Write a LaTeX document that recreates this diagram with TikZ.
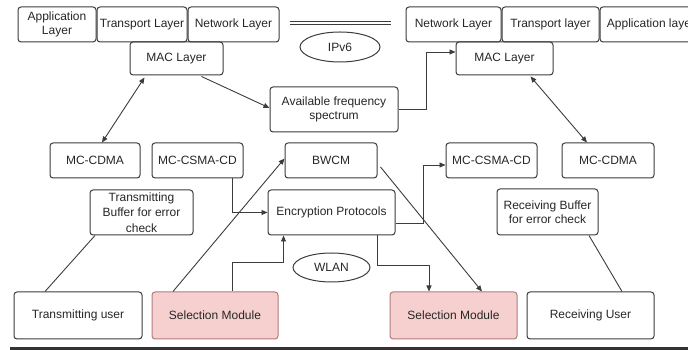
\documentclass[tikz,border=0pt]{standalone}
\usepackage{fontspec}
\setmainfont{Liberation Sans}
\usepackage{tikz}
\usetikzlibrary{arrows.meta,positioning,shapes.geometric}
\definecolor{edge}{HTML}{3C3C3C}
\definecolor{selfill}{HTML}{F6D0CE}
\definecolor{seldraw}{HTML}{B07C7C}

\begin{document}
\begin{tikzpicture}[
  x=1pt, y=1pt,
  node distance=0pt,
  box/.style={draw=edge, line width=1pt, rounded corners=3pt, align=center, inner sep=1pt, text=black!85, font=\fontsize{12}{13.5}\selectfont},
  sel/.style={box, fill=selfill, draw=seldraw},
  oval/.style={draw=edge, line width=1pt, ellipse, inner sep=0pt, text=black!85, font=\fontsize{12}{13.5}\selectfont},
  arrow/.style={-{Triangle[length=6pt,width=5pt]}, line width=0.9pt, draw=edge},
  twoway/.style={{Triangle[length=6pt,width=5pt]}-{Triangle[length=6pt,width=5pt]}, line width=0.9pt, draw=edge},
  link/.style={line width=0.9pt, draw=edge}
]
\useasboundingbox (0,0) rectangle (688,350);

% sender stack
\node[box, minimum width=78pt, minimum height=35pt] (appL) at (57,325.5) {Application\\Layer};
\node[box, minimum width=90pt, minimum height=35pt, right=of appL] (trL) {Transport Layer};
\node[box, minimum width=91pt, minimum height=35pt, right=of trL] (netL) {Network Layer};
\node[box, minimum width=93pt, minimum height=33pt] (macL) at (176.5,291.5) {MAC Layer};

% receiver stack
\node[box, minimum width=95pt, minimum height=35pt] (netR) at (453.5,325.5) {Network Layer};
\node[box, minimum width=97pt, minimum height=35pt, right=of netR] (trR) {Transport layer};
\node[box, minimum width=102pt, minimum height=35pt, right=of trR] (appR) {Application layer};
\node[box, minimum width=97pt, minimum height=33pt] (macR) at (504.5,291.5) {MAC Layer};

\node[oval, minimum width=80pt, minimum height=30pt] (ipv6) at (340,303) {IPv6};
\node[box, minimum width=128pt, minimum height=45pt] (avail) at (334,240.5) {Available frequency\\spectrum};

% access schemes
\node[box, minimum width=90pt, minimum height=35pt] (cdmaL) at (95,189.5) {MC-CDMA};
\node[box, minimum width=91pt, minimum height=35pt] (csmaL) at (197.5,189.5) {MC-CSMA-CD};
\node[box, minimum width=92pt, minimum height=35pt] (bwcm) at (331,189.5) {BWCM};
\node[box, minimum width=91pt, minimum height=35pt] (csmaR) at (491.5,189.5) {MC-CSMA-CD};
\node[box, minimum width=92pt, minimum height=35pt] (cdmaR) at (608,189.5) {MC-CDMA};

\node[box, minimum width=103pt, minimum height=45pt, font=\fontsize{12}{15.5}\selectfont] (txBuf) at (141.5,137.5) {Transmitting\\Buffer for error\\check};
\node[box, minimum width=127pt, minimum height=45pt] (encr) at (331.5,137.5) {Encryption Protocols};
\node[box, minimum width=101pt, minimum height=46pt] (rxBuf) at (547.5,138) {Receiving Buffer\\for error check};
\node[oval, minimum width=77pt, minimum height=29pt] (wlan) at (331.5,82.5) {WLAN};

% users
\node[box, minimum width=128pt, minimum height=47pt] (txUser) at (78,34.5) {Transmitting user};
\node[sel, minimum width=126pt, minimum height=47pt] (selL) at (215,34.5) {Selection Module};
\node[sel, minimum width=127pt, minimum height=47pt] (selR) at (453.5,34.5) {Selection Module};
\node[box, minimum width=127pt, minimum height=47pt] (rxUser) at (590.5,34.5) {Receiving User};

\draw[link, double=white, double distance=2.5pt] ([xshift=10pt,yshift=1.5pt]netL.east) -- ([xshift=-15pt,yshift=1.5pt]netR.west);

\draw[twoway] ([xshift=7pt]cdmaL.north) -- ([xshift=-32pt,yshift=-2pt]macL.south);
\draw[twoway] ([xshift=-21pt]cdmaR.north) -- ([xshift=26pt,yshift=-1pt]macR.south);
\draw[arrow] ([xshift=25pt,yshift=-1pt]macL.south) -- ([yshift=1.5pt]avail.west);
\draw[arrow] (avail.east) -- ++(28,0) |- ([yshift=6.5pt]macR.west);

\draw[arrow] ([xshift=35pt]csmaL.south) |- (encr.west);
\draw[arrow] ([xshift=-42pt]selL.north) -- ([yshift=2pt]bwcm.west);
\draw[arrow] ([xshift=17pt]selL.north) -- ++(0,29) -| ([xshift=-48pt]encr.south);
\draw[arrow] ([yshift=-10.5pt]encr.east) -- ++(28,0) |- ([yshift=-4.5pt]csmaR.west);
\draw[arrow] ([xshift=46pt]encr.south) -- ++(0,-30) -| ([xshift=-24.5pt]selR.north);
\draw[arrow] ([xshift=3pt,yshift=-6.5pt]bwcm.east) -- ([xshift=28.5pt]selR.north);

\draw[link] ([xshift=-33pt]txUser.north) -- ([xshift=-46.5pt]txBuf.south);
\draw[link] ([xshift=31.5pt]rxUser.north) -- ([xshift=41.5pt]rxBuf.south);

% page rule
\coordinate (ruleL) at (10,1.5);
\coordinate (ruleR) at (688,1.5);
\draw[line width=2.5pt, black!80] (ruleL) -- (ruleR);
\end{tikzpicture}
\end{document}
